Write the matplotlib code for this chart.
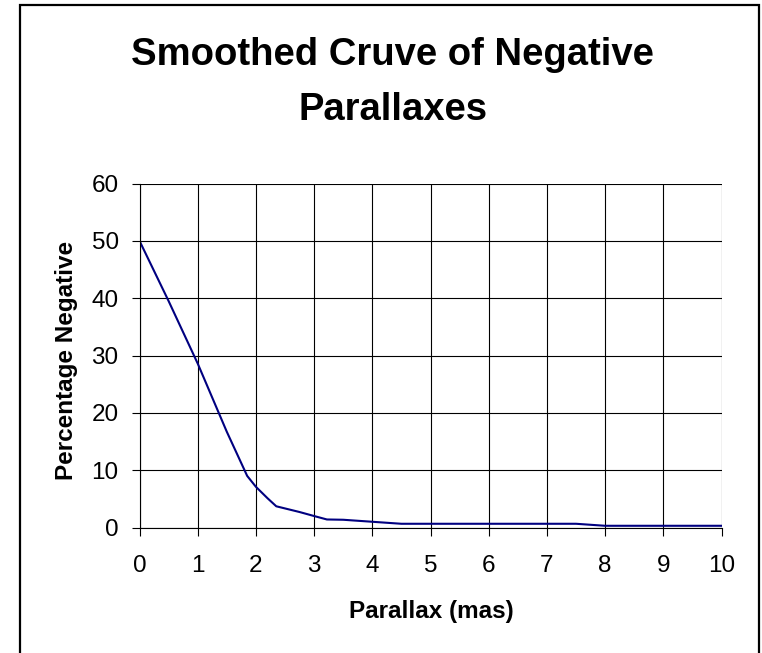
import matplotlib
matplotlib.use("Agg")
import matplotlib.pyplot as plt
from matplotlib.patches import Rectangle

parallax = [0, 0.5, 1.0, 1.5, 1.85, 2.0, 2.2, 2.35, 2.75, 3.0, 3.22, 3.5, 4.0, 4.5, 5, 6, 7, 7.5, 8, 9, 10]
pct_negative = [50, 39.5, 28.6, 16.7, 9.0, 7.1, 5.1, 3.7, 2.7, 2.0, 1.4, 1.35, 1.0, 0.65, 0.65, 0.65, 0.65, 0.65, 0.3, 0.3, 0.3]
x_ticks = list(range(0, 11))
y_ticks = [0, 10, 20, 30, 40, 50, 60]

plt.rcParams['font.family'] = ['Liberation Sans', 'DejaVu Sans']

W, H = 762, 653
fig = plt.figure(figsize=(W / 100, H / 100), dpi=100)
ax_l, ax_r, ax_t, ax_b = 139.5, 721.5, 183.5, 527.5
ax = fig.add_axes([ax_l / W, 1 - ax_b / H, (ax_r - ax_l) / W, (ax_b - ax_t) / H])

ax.plot(parallax, pct_negative, color='#000080', lw=1.5)
ax.set_xlim(0, 10)
ax.set_ylim(0, 60)
ax.set_xticks(x_ticks)
ax.set_yticks(y_ticks)
ax.grid(True, color='black', lw=0.8)
for s in ['top', 'right']:
    ax.spines[s].set_visible(False)
for s in ['left', 'bottom']:
    ax.spines[s].set_linewidth(0.8)
ax.tick_params(axis='both', direction='out', length=6, width=0.8, labelsize=17.5)
ax.tick_params(axis='x', pad=14)
ax.tick_params(axis='y', pad=9)

ax.set_xlabel('Parallax (mas)', fontsize=17.5, fontweight='bold', va='baseline')
ax.xaxis.set_label_coords((431 - ax_l) / (ax_r - ax_l), -(618 - ax_b) / (ax_b - ax_t))
ax.set_ylabel('Percentage Negative', fontsize=17.5, fontweight='bold', va='center')
ax.yaxis.set_label_coords(-(ax_l - 67) / (ax_r - ax_l), (ax_b - 360.5) / (ax_b - ax_t))

fig.text(392 / W, 1 - 65 / H, 'Smoothed Cruve of Negative', ha='center', va='baseline',
         fontsize=27.5, fontweight='bold')
fig.text(393 / W, 1 - 120 / H, 'Parallaxes', ha='center', va='baseline',
         fontsize=27.5, fontweight='bold')

fig.patches.append(Rectangle((19.5 / W, -0.01), (759 - 19.5) / W, 1.01 - 5 / H, transform=fig.transFigure,
                             fill=False, edgecolor='black', lw=1.6))

fig.savefig('out.png', dpi=100)
